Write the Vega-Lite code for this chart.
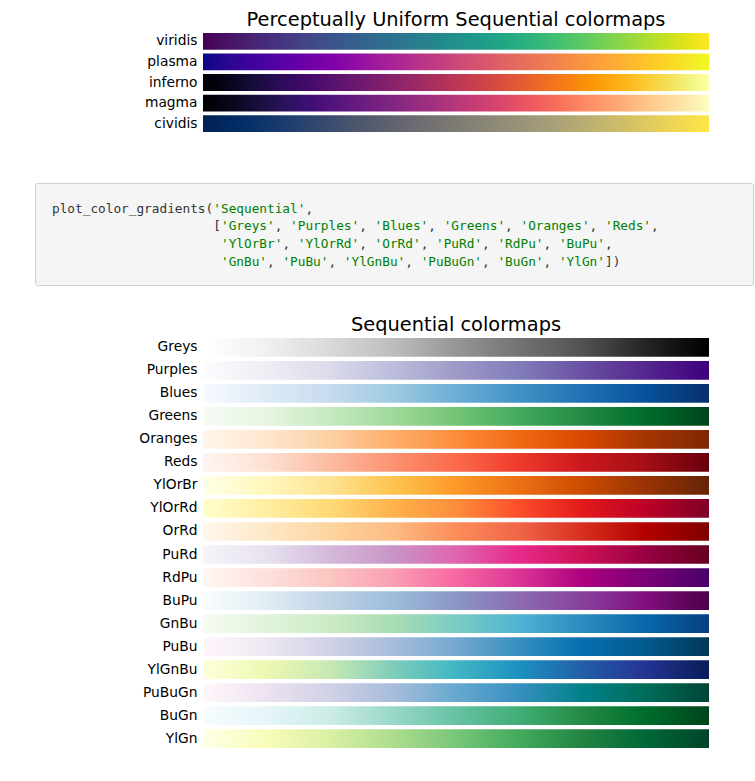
{
"$schema": "https://vega.github.io/schema/vega-lite/v6.json",
"background": "white",
"padding": {"left": 34, "top": 9, "right": 0, "bottom": 0},
"config": {
  "view": {"stroke": null},
  "axisY": {"domain": false, "ticks": false, "grid": false, "labelPadding": 6, "labelFontSize": 13.8, "labelFont": "DejaVu Sans", "labelColor": "#000000", "labelLimit": 0}
},
"datasets": {
  "cells": [
{"i":0,"j":1},{"i":1,"j":2},{"i":2,"j":3},{"i":3,"j":4},{"i":4,"j":5},{"i":5,"j":6},{"i":6,"j":7},{"i":7,"j":8},{"i":8,"j":9},{"i":9,"j":10},
{"i":10,"j":11},{"i":11,"j":12},{"i":12,"j":13},{"i":13,"j":14},{"i":14,"j":15},{"i":15,"j":16},{"i":16,"j":17},{"i":17,"j":18},{"i":18,"j":19},{"i":19,"j":20},
{"i":20,"j":21},{"i":21,"j":22},{"i":22,"j":23},{"i":23,"j":24},{"i":24,"j":25},{"i":25,"j":26},{"i":26,"j":27},{"i":27,"j":28},{"i":28,"j":29},{"i":29,"j":30},
{"i":30,"j":31},{"i":31,"j":32},{"i":32,"j":33},{"i":33,"j":34},{"i":34,"j":35},{"i":35,"j":36},{"i":36,"j":37},{"i":37,"j":38},{"i":38,"j":39},{"i":39,"j":40},
{"i":40,"j":41},{"i":41,"j":42},{"i":42,"j":43},{"i":43,"j":44},{"i":44,"j":45},{"i":45,"j":46},{"i":46,"j":47},{"i":47,"j":48},{"i":48,"j":49},{"i":49,"j":50},
{"i":50,"j":51},{"i":51,"j":52},{"i":52,"j":53},{"i":53,"j":54},{"i":54,"j":55},{"i":55,"j":56},{"i":56,"j":57},{"i":57,"j":58},{"i":58,"j":59},{"i":59,"j":60},
{"i":60,"j":61},{"i":61,"j":62},{"i":62,"j":63},{"i":63,"j":64},{"i":64,"j":65},{"i":65,"j":66},{"i":66,"j":67},{"i":67,"j":68},{"i":68,"j":69},{"i":69,"j":70},
{"i":70,"j":71},{"i":71,"j":72},{"i":72,"j":73},{"i":73,"j":74},{"i":74,"j":75},{"i":75,"j":76},{"i":76,"j":77},{"i":77,"j":78},{"i":78,"j":79},{"i":79,"j":80},
{"i":80,"j":81},{"i":81,"j":82},{"i":82,"j":83},{"i":83,"j":84},{"i":84,"j":85},{"i":85,"j":86},{"i":86,"j":87},{"i":87,"j":88},{"i":88,"j":89},{"i":89,"j":90},
{"i":90,"j":91},{"i":91,"j":92},{"i":92,"j":93},{"i":93,"j":94},{"i":94,"j":95},{"i":95,"j":96},{"i":96,"j":97},{"i":97,"j":98},{"i":98,"j":99},{"i":99,"j":100},
{"i":100,"j":101},{"i":101,"j":102},{"i":102,"j":103},{"i":103,"j":104},{"i":104,"j":105},{"i":105,"j":106},{"i":106,"j":107},{"i":107,"j":108},{"i":108,"j":109},{"i":109,"j":110},
{"i":110,"j":111},{"i":111,"j":112},{"i":112,"j":113},{"i":113,"j":114},{"i":114,"j":115},{"i":115,"j":116},{"i":116,"j":117},{"i":117,"j":118},{"i":118,"j":119},{"i":119,"j":120},
{"i":120,"j":121},{"i":121,"j":122},{"i":122,"j":123},{"i":123,"j":124},{"i":124,"j":125},{"i":125,"j":126},{"i":126,"j":127},{"i":127,"j":128},{"i":128,"j":129},{"i":129,"j":130},
{"i":130,"j":131},{"i":131,"j":132},{"i":132,"j":133},{"i":133,"j":134},{"i":134,"j":135},{"i":135,"j":136},{"i":136,"j":137},{"i":137,"j":138},{"i":138,"j":139},{"i":139,"j":140},
{"i":140,"j":141},{"i":141,"j":142},{"i":142,"j":143},{"i":143,"j":144},{"i":144,"j":145},{"i":145,"j":146},{"i":146,"j":147},{"i":147,"j":148},{"i":148,"j":149},{"i":149,"j":150},
{"i":150,"j":151},{"i":151,"j":152},{"i":152,"j":153},{"i":153,"j":154},{"i":154,"j":155},{"i":155,"j":156},{"i":156,"j":157},{"i":157,"j":158},{"i":158,"j":159},{"i":159,"j":160},
{"i":160,"j":161},{"i":161,"j":162},{"i":162,"j":163},{"i":163,"j":164},{"i":164,"j":165},{"i":165,"j":166},{"i":166,"j":167},{"i":167,"j":168},{"i":168,"j":169},{"i":169,"j":170},
{"i":170,"j":171},{"i":171,"j":172},{"i":172,"j":173},{"i":173,"j":174},{"i":174,"j":175},{"i":175,"j":176},{"i":176,"j":177},{"i":177,"j":178},{"i":178,"j":179},{"i":179,"j":180},
{"i":180,"j":181},{"i":181,"j":182},{"i":182,"j":183},{"i":183,"j":184},{"i":184,"j":185},{"i":185,"j":186},{"i":186,"j":187},{"i":187,"j":188},{"i":188,"j":189},{"i":189,"j":190},
{"i":190,"j":191},{"i":191,"j":192},{"i":192,"j":193},{"i":193,"j":194},{"i":194,"j":195},{"i":195,"j":196},{"i":196,"j":197},{"i":197,"j":198},{"i":198,"j":199},{"i":199,"j":200},
{"i":200,"j":201},{"i":201,"j":202},{"i":202,"j":203},{"i":203,"j":204},{"i":204,"j":205},{"i":205,"j":206},{"i":206,"j":207},{"i":207,"j":208},{"i":208,"j":209},{"i":209,"j":210},
{"i":210,"j":211},{"i":211,"j":212},{"i":212,"j":213},{"i":213,"j":214},{"i":214,"j":215},{"i":215,"j":216},{"i":216,"j":217},{"i":217,"j":218},{"i":218,"j":219},{"i":219,"j":220},
{"i":220,"j":221},{"i":221,"j":222},{"i":222,"j":223},{"i":223,"j":224},{"i":224,"j":225},{"i":225,"j":226},{"i":226,"j":227},{"i":227,"j":228},{"i":228,"j":229},{"i":229,"j":230},
{"i":230,"j":231},{"i":231,"j":232},{"i":232,"j":233},{"i":233,"j":234},{"i":234,"j":235},{"i":235,"j":236},{"i":236,"j":237},{"i":237,"j":238},{"i":238,"j":239},{"i":239,"j":240},
{"i":240,"j":241},{"i":241,"j":242},{"i":242,"j":243},{"i":243,"j":244},{"i":244,"j":245},{"i":245,"j":246},{"i":246,"j":247},{"i":247,"j":248},{"i":248,"j":249},{"i":249,"j":250},
{"i":250,"j":251},{"i":251,"j":252},{"i":252,"j":253}
  ],
  "code": [
{"line":0,"col":0,"t":"plot_color_gradients(","k":"p"},
{"line":0,"col":21,"t":"'Sequential'","k":"s"},
{"line":0,"col":33,"t":",","k":"p"},
{"line":1,"col":21,"t":"[","k":"p"},
{"line":1,"col":22,"t":"'Greys'","k":"s"},
{"line":1,"col":29,"t":",","k":"p"},
{"line":1,"col":31,"t":"'Purples'","k":"s"},
{"line":1,"col":40,"t":",","k":"p"},
{"line":1,"col":42,"t":"'Blues'","k":"s"},
{"line":1,"col":49,"t":",","k":"p"},
{"line":1,"col":51,"t":"'Greens'","k":"s"},
{"line":1,"col":59,"t":",","k":"p"},
{"line":1,"col":61,"t":"'Oranges'","k":"s"},
{"line":1,"col":70,"t":",","k":"p"},
{"line":1,"col":72,"t":"'Reds'","k":"s"},
{"line":1,"col":78,"t":",","k":"p"},
{"line":2,"col":22,"t":"'YlOrBr'","k":"s"},
{"line":2,"col":30,"t":",","k":"p"},
{"line":2,"col":32,"t":"'YlOrRd'","k":"s"},
{"line":2,"col":40,"t":",","k":"p"},
{"line":2,"col":42,"t":"'OrRd'","k":"s"},
{"line":2,"col":48,"t":",","k":"p"},
{"line":2,"col":50,"t":"'PuRd'","k":"s"},
{"line":2,"col":56,"t":",","k":"p"},
{"line":2,"col":58,"t":"'RdPu'","k":"s"},
{"line":2,"col":64,"t":",","k":"p"},
{"line":2,"col":66,"t":"'BuPu'","k":"s"},
{"line":2,"col":72,"t":",","k":"p"},
{"line":3,"col":22,"t":"'GnBu'","k":"s"},
{"line":3,"col":28,"t":",","k":"p"},
{"line":3,"col":30,"t":"'PuBu'","k":"s"},
{"line":3,"col":36,"t":",","k":"p"},
{"line":3,"col":38,"t":"'YlGnBu'","k":"s"},
{"line":3,"col":46,"t":",","k":"p"},
{"line":3,"col":48,"t":"'PuBuGn'","k":"s"},
{"line":3,"col":56,"t":",","k":"p"},
{"line":3,"col":58,"t":"'BuGn'","k":"s"},
{"line":3,"col":64,"t":",","k":"p"},
{"line":3,"col":66,"t":"'YlGn'","k":"s"},
{"line":3,"col":72,"t":"])","k":"p"}
  ]
},
"spacing": 28,
"vconcat": [
  {
    "spacing": 50,
    "vconcat": [
      {
        "width": 674,
        "height": 99,
        "title": {"text": "Perceptually Uniform Sequential colormaps", "font": "DejaVu Sans", "fontSize": 19.4, "fontWeight": "normal", "color": "#000000", "anchor": "middle", "frame": "group", "baseline": "alphabetic", "offset": -12, "dx": 84},
        "data": {"name": "cells"},
        "encoding": {
          "x": {"field": "i", "type": "quantitative", "scale": {"domain": [-84, 253], "nice": false, "zero": false}, "axis": null},
          "x2": {"field": "j"}
        },
        "layer": [
          {"mark": "rect", "encoding": {"y": {"datum": "viridis", "type": "nominal", "scale": {"domain": ["viridis","plasma","inferno","magma","cividis"], "paddingInner": 0.185, "paddingOuter": 0}, "axis": {"title": null, "offset": -168}}, "color": {"field": "i", "type": "quantitative", "scale": {"scheme": "viridis"}, "legend": null}}},
          {"mark": "rect", "encoding": {"y": {"datum": "plasma", "type": "nominal", "scale": {"domain": ["viridis","plasma","inferno","magma","cividis"], "paddingInner": 0.185, "paddingOuter": 0}, "axis": {"title": null, "offset": -168}}, "color": {"field": "i", "type": "quantitative", "scale": {"scheme": "plasma"}, "legend": null}}},
          {"mark": "rect", "encoding": {"y": {"datum": "inferno", "type": "nominal", "scale": {"domain": ["viridis","plasma","inferno","magma","cividis"], "paddingInner": 0.185, "paddingOuter": 0}, "axis": {"title": null, "offset": -168}}, "color": {"field": "i", "type": "quantitative", "scale": {"scheme": "inferno"}, "legend": null}}},
          {"mark": "rect", "encoding": {"y": {"datum": "magma", "type": "nominal", "scale": {"domain": ["viridis","plasma","inferno","magma","cividis"], "paddingInner": 0.185, "paddingOuter": 0}, "axis": {"title": null, "offset": -168}}, "color": {"field": "i", "type": "quantitative", "scale": {"scheme": "magma"}, "legend": null}}},
          {"mark": "rect", "encoding": {"y": {"datum": "cividis", "type": "nominal", "scale": {"domain": ["viridis","plasma","inferno","magma","cividis"], "paddingInner": 0.185, "paddingOuter": 0}, "axis": {"title": null, "offset": -168}}, "color": {"field": "i", "type": "quantitative", "scale": {"scheme": "cividis"}, "legend": null}}}
        ],
        "resolve": {"scale": {"color": "independent"}}
      },
      {
        "width": 718,
        "height": 102,
        "view": {"fill": "#f5f5f5", "stroke": "#cfcfcf", "cornerRadius": 2},
        "data": {"name": "code"},
        "mark": {"type": "text", "align": "left", "baseline": "middle", "font": "DejaVu Sans Mono", "fontSize": 12.76},
        "encoding": {
          "x": {"field": "col", "type": "quantitative", "scale": {"domain": [-2.2135, 91.276], "nice": false, "zero": false}, "axis": null},
          "y": {"field": "line", "type": "quantitative", "scale": {"domain": [-1.45, 4.32], "nice": false, "zero": false, "reverse": true}, "axis": null},
          "text": {"field": "t"},
          "color": {"field": "k", "type": "nominal", "scale": {"domain": ["p", "s"], "range": ["#333333", "#008000"]}, "legend": null}
        }
      }
    ]
  },
  {
    "width": 674,
    "height": 410,
    "title": {"text": "Sequential colormaps", "font": "DejaVu Sans", "fontSize": 19.4, "fontWeight": "normal", "color": "#000000", "anchor": "middle", "frame": "group", "baseline": "alphabetic", "offset": -12, "dx": 84},
    "data": {"name": "cells"},
    "encoding": {
      "x": {"field": "i", "type": "quantitative", "scale": {"domain": [-84, 253], "nice": false, "zero": false}, "axis": null},
      "x2": {"field": "j"}
    },
    "layer": [
      {"mark": "rect", "encoding": {"y": {"datum": "Greys", "type": "nominal", "scale": {"domain": ["Greys","Purples","Blues","Greens","Oranges","Reds","YlOrBr","YlOrRd","OrRd","PuRd","RdPu","BuPu","GnBu","PuBu","YlGnBu","PuBuGn","BuGn","YlGn"], "paddingInner": 0.187, "paddingOuter": 0}, "axis": {"title": null, "offset": -168}}, "color": {"field": "i", "type": "quantitative", "scale": {"domain": [0,31.5,63,94.5,126,157.5,189,220.5,252], "range": ["#ffffff","#f0f0f0","#d9d9d9","#bdbdbd","#969696","#737373","#525252","#252525","#000000"], "interpolate": "rgb"}, "legend": null}}},
      {"mark": "rect", "encoding": {"y": {"datum": "Purples", "type": "nominal", "scale": {"domain": ["Greys","Purples","Blues","Greens","Oranges","Reds","YlOrBr","YlOrRd","OrRd","PuRd","RdPu","BuPu","GnBu","PuBu","YlGnBu","PuBuGn","BuGn","YlGn"], "paddingInner": 0.187, "paddingOuter": 0}, "axis": {"title": null, "offset": -168}}, "color": {"field": "i", "type": "quantitative", "scale": {"domain": [0,31.5,63,94.5,126,157.5,189,220.5,252], "range": ["#fcfbfd","#efedf5","#dadaeb","#bcbddc","#9e9ac8","#807dba","#6a51a3","#54278f","#3f007d"], "interpolate": "rgb"}, "legend": null}}},
      {"mark": "rect", "encoding": {"y": {"datum": "Blues", "type": "nominal", "scale": {"domain": ["Greys","Purples","Blues","Greens","Oranges","Reds","YlOrBr","YlOrRd","OrRd","PuRd","RdPu","BuPu","GnBu","PuBu","YlGnBu","PuBuGn","BuGn","YlGn"], "paddingInner": 0.187, "paddingOuter": 0}, "axis": {"title": null, "offset": -168}}, "color": {"field": "i", "type": "quantitative", "scale": {"domain": [0,31.5,63,94.5,126,157.5,189,220.5,252], "range": ["#f7fbff","#deebf7","#c6dbef","#9ecae1","#6baed6","#4292c6","#2171b5","#08519c","#08306b"], "interpolate": "rgb"}, "legend": null}}},
      {"mark": "rect", "encoding": {"y": {"datum": "Greens", "type": "nominal", "scale": {"domain": ["Greys","Purples","Blues","Greens","Oranges","Reds","YlOrBr","YlOrRd","OrRd","PuRd","RdPu","BuPu","GnBu","PuBu","YlGnBu","PuBuGn","BuGn","YlGn"], "paddingInner": 0.187, "paddingOuter": 0}, "axis": {"title": null, "offset": -168}}, "color": {"field": "i", "type": "quantitative", "scale": {"domain": [0,31.5,63,94.5,126,157.5,189,220.5,252], "range": ["#f7fcf5","#e5f5e0","#c7e9c0","#a1d99b","#74c476","#41ab5d","#238b45","#006d2c","#00441b"], "interpolate": "rgb"}, "legend": null}}},
      {"mark": "rect", "encoding": {"y": {"datum": "Oranges", "type": "nominal", "scale": {"domain": ["Greys","Purples","Blues","Greens","Oranges","Reds","YlOrBr","YlOrRd","OrRd","PuRd","RdPu","BuPu","GnBu","PuBu","YlGnBu","PuBuGn","BuGn","YlGn"], "paddingInner": 0.187, "paddingOuter": 0}, "axis": {"title": null, "offset": -168}}, "color": {"field": "i", "type": "quantitative", "scale": {"domain": [0,31.5,63,94.5,126,157.5,189,220.5,252], "range": ["#fff5eb","#fee6ce","#fdd0a2","#fdae6b","#fd8d3c","#f16913","#d94801","#a63603","#7f2704"], "interpolate": "rgb"}, "legend": null}}},
      {"mark": "rect", "encoding": {"y": {"datum": "Reds", "type": "nominal", "scale": {"domain": ["Greys","Purples","Blues","Greens","Oranges","Reds","YlOrBr","YlOrRd","OrRd","PuRd","RdPu","BuPu","GnBu","PuBu","YlGnBu","PuBuGn","BuGn","YlGn"], "paddingInner": 0.187, "paddingOuter": 0}, "axis": {"title": null, "offset": -168}}, "color": {"field": "i", "type": "quantitative", "scale": {"domain": [0,31.5,63,94.5,126,157.5,189,220.5,252], "range": ["#fff5f0","#fee0d2","#fcbba1","#fc9272","#fb6a4a","#ef3b2c","#cb181d","#a50f15","#67000d"], "interpolate": "rgb"}, "legend": null}}},
      {"mark": "rect", "encoding": {"y": {"datum": "YlOrBr", "type": "nominal", "scale": {"domain": ["Greys","Purples","Blues","Greens","Oranges","Reds","YlOrBr","YlOrRd","OrRd","PuRd","RdPu","BuPu","GnBu","PuBu","YlGnBu","PuBuGn","BuGn","YlGn"], "paddingInner": 0.187, "paddingOuter": 0}, "axis": {"title": null, "offset": -168}}, "color": {"field": "i", "type": "quantitative", "scale": {"domain": [0,31.5,63,94.5,126,157.5,189,220.5,252], "range": ["#ffffe5","#fff7bc","#fee391","#fec44f","#fe9929","#ec7014","#cc4c02","#993404","#662506"], "interpolate": "rgb"}, "legend": null}}},
      {"mark": "rect", "encoding": {"y": {"datum": "YlOrRd", "type": "nominal", "scale": {"domain": ["Greys","Purples","Blues","Greens","Oranges","Reds","YlOrBr","YlOrRd","OrRd","PuRd","RdPu","BuPu","GnBu","PuBu","YlGnBu","PuBuGn","BuGn","YlGn"], "paddingInner": 0.187, "paddingOuter": 0}, "axis": {"title": null, "offset": -168}}, "color": {"field": "i", "type": "quantitative", "scale": {"domain": [0,31.5,63,94.5,126,157.5,189,220.5,252], "range": ["#ffffcc","#ffeda0","#fed976","#feb24c","#fd8d3c","#fc4e2a","#e31a1c","#bd0026","#800026"], "interpolate": "rgb"}, "legend": null}}},
      {"mark": "rect", "encoding": {"y": {"datum": "OrRd", "type": "nominal", "scale": {"domain": ["Greys","Purples","Blues","Greens","Oranges","Reds","YlOrBr","YlOrRd","OrRd","PuRd","RdPu","BuPu","GnBu","PuBu","YlGnBu","PuBuGn","BuGn","YlGn"], "paddingInner": 0.187, "paddingOuter": 0}, "axis": {"title": null, "offset": -168}}, "color": {"field": "i", "type": "quantitative", "scale": {"domain": [0,31.5,63,94.5,126,157.5,189,220.5,252], "range": ["#fff7ec","#fee8c8","#fdd49e","#fdbb84","#fc8d59","#ef6548","#d7301f","#b30000","#7f0000"], "interpolate": "rgb"}, "legend": null}}},
      {"mark": "rect", "encoding": {"y": {"datum": "PuRd", "type": "nominal", "scale": {"domain": ["Greys","Purples","Blues","Greens","Oranges","Reds","YlOrBr","YlOrRd","OrRd","PuRd","RdPu","BuPu","GnBu","PuBu","YlGnBu","PuBuGn","BuGn","YlGn"], "paddingInner": 0.187, "paddingOuter": 0}, "axis": {"title": null, "offset": -168}}, "color": {"field": "i", "type": "quantitative", "scale": {"domain": [0,31.5,63,94.5,126,157.5,189,220.5,252], "range": ["#f7f4f9","#e7e1ef","#d4b9da","#c994c7","#df65b0","#e7298a","#ce1256","#980043","#67001f"], "interpolate": "rgb"}, "legend": null}}},
      {"mark": "rect", "encoding": {"y": {"datum": "RdPu", "type": "nominal", "scale": {"domain": ["Greys","Purples","Blues","Greens","Oranges","Reds","YlOrBr","YlOrRd","OrRd","PuRd","RdPu","BuPu","GnBu","PuBu","YlGnBu","PuBuGn","BuGn","YlGn"], "paddingInner": 0.187, "paddingOuter": 0}, "axis": {"title": null, "offset": -168}}, "color": {"field": "i", "type": "quantitative", "scale": {"domain": [0,31.5,63,94.5,126,157.5,189,220.5,252], "range": ["#fff7f3","#fde0dd","#fcc5c0","#fa9fb5","#f768a1","#dd3497","#ae017e","#7a0177","#49006a"], "interpolate": "rgb"}, "legend": null}}},
      {"mark": "rect", "encoding": {"y": {"datum": "BuPu", "type": "nominal", "scale": {"domain": ["Greys","Purples","Blues","Greens","Oranges","Reds","YlOrBr","YlOrRd","OrRd","PuRd","RdPu","BuPu","GnBu","PuBu","YlGnBu","PuBuGn","BuGn","YlGn"], "paddingInner": 0.187, "paddingOuter": 0}, "axis": {"title": null, "offset": -168}}, "color": {"field": "i", "type": "quantitative", "scale": {"domain": [0,31.5,63,94.5,126,157.5,189,220.5,252], "range": ["#f7fcfd","#e0ecf4","#bfd3e6","#9ebcda","#8c96c6","#8c6bb1","#88419d","#810f7c","#4d004b"], "interpolate": "rgb"}, "legend": null}}},
      {"mark": "rect", "encoding": {"y": {"datum": "GnBu", "type": "nominal", "scale": {"domain": ["Greys","Purples","Blues","Greens","Oranges","Reds","YlOrBr","YlOrRd","OrRd","PuRd","RdPu","BuPu","GnBu","PuBu","YlGnBu","PuBuGn","BuGn","YlGn"], "paddingInner": 0.187, "paddingOuter": 0}, "axis": {"title": null, "offset": -168}}, "color": {"field": "i", "type": "quantitative", "scale": {"domain": [0,31.5,63,94.5,126,157.5,189,220.5,252], "range": ["#f7fcf0","#e0f3db","#ccebc5","#a8ddb5","#7bccc4","#4eb3d3","#2b8cbe","#0868ac","#084081"], "interpolate": "rgb"}, "legend": null}}},
      {"mark": "rect", "encoding": {"y": {"datum": "PuBu", "type": "nominal", "scale": {"domain": ["Greys","Purples","Blues","Greens","Oranges","Reds","YlOrBr","YlOrRd","OrRd","PuRd","RdPu","BuPu","GnBu","PuBu","YlGnBu","PuBuGn","BuGn","YlGn"], "paddingInner": 0.187, "paddingOuter": 0}, "axis": {"title": null, "offset": -168}}, "color": {"field": "i", "type": "quantitative", "scale": {"domain": [0,31.5,63,94.5,126,157.5,189,220.5,252], "range": ["#fff7fb","#ece7f2","#d0d1e6","#a6bddb","#74a9cf","#3690c0","#0570b0","#045a8d","#023858"], "interpolate": "rgb"}, "legend": null}}},
      {"mark": "rect", "encoding": {"y": {"datum": "YlGnBu", "type": "nominal", "scale": {"domain": ["Greys","Purples","Blues","Greens","Oranges","Reds","YlOrBr","YlOrRd","OrRd","PuRd","RdPu","BuPu","GnBu","PuBu","YlGnBu","PuBuGn","BuGn","YlGn"], "paddingInner": 0.187, "paddingOuter": 0}, "axis": {"title": null, "offset": -168}}, "color": {"field": "i", "type": "quantitative", "scale": {"domain": [0,31.5,63,94.5,126,157.5,189,220.5,252], "range": ["#ffffd9","#edf8b1","#c7e9b4","#7fcdbb","#41b6c4","#1d91c0","#225ea8","#253494","#081d58"], "interpolate": "rgb"}, "legend": null}}},
      {"mark": "rect", "encoding": {"y": {"datum": "PuBuGn", "type": "nominal", "scale": {"domain": ["Greys","Purples","Blues","Greens","Oranges","Reds","YlOrBr","YlOrRd","OrRd","PuRd","RdPu","BuPu","GnBu","PuBu","YlGnBu","PuBuGn","BuGn","YlGn"], "paddingInner": 0.187, "paddingOuter": 0}, "axis": {"title": null, "offset": -168}}, "color": {"field": "i", "type": "quantitative", "scale": {"domain": [0,31.5,63,94.5,126,157.5,189,220.5,252], "range": ["#fff7fb","#ece2f0","#d0d1e6","#a6bddb","#67a9cf","#3690c0","#02818a","#016c59","#014636"], "interpolate": "rgb"}, "legend": null}}},
      {"mark": "rect", "encoding": {"y": {"datum": "BuGn", "type": "nominal", "scale": {"domain": ["Greys","Purples","Blues","Greens","Oranges","Reds","YlOrBr","YlOrRd","OrRd","PuRd","RdPu","BuPu","GnBu","PuBu","YlGnBu","PuBuGn","BuGn","YlGn"], "paddingInner": 0.187, "paddingOuter": 0}, "axis": {"title": null, "offset": -168}}, "color": {"field": "i", "type": "quantitative", "scale": {"domain": [0,31.5,63,94.5,126,157.5,189,220.5,252], "range": ["#f7fcfd","#e5f5f9","#ccece6","#99d8c9","#66c2a4","#41ae76","#238b45","#006d2c","#00441b"], "interpolate": "rgb"}, "legend": null}}},
      {"mark": "rect", "encoding": {"y": {"datum": "YlGn", "type": "nominal", "scale": {"domain": ["Greys","Purples","Blues","Greens","Oranges","Reds","YlOrBr","YlOrRd","OrRd","PuRd","RdPu","BuPu","GnBu","PuBu","YlGnBu","PuBuGn","BuGn","YlGn"], "paddingInner": 0.187, "paddingOuter": 0}, "axis": {"title": null, "offset": -168}}, "color": {"field": "i", "type": "quantitative", "scale": {"domain": [0,31.5,63,94.5,126,157.5,189,220.5,252], "range": ["#ffffe5","#f7fcb9","#d9f0a3","#addd8e","#78c679","#41ab5d","#238443","#006837","#004529"], "interpolate": "rgb"}, "legend": null}}}
    ],
    "resolve": {"scale": {"color": "independent"}}
  }
]
}
